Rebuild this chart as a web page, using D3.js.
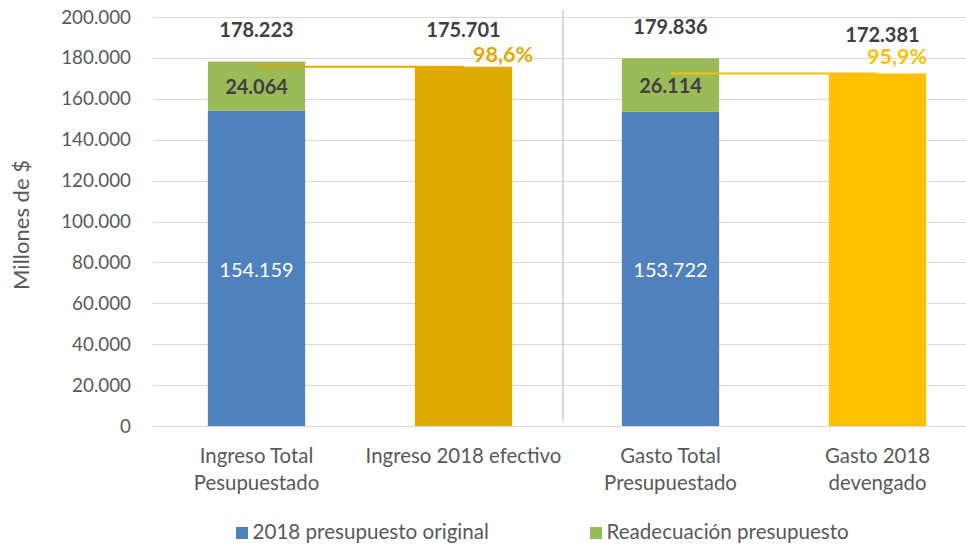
<!DOCTYPE html>
<html>
<head>
<meta charset="utf-8">
<script src="https://cdn.jsdelivr.net/npm/d3@7"></script>
<style>
  body { margin: 0; background: #fff; }
  svg { display: block; font-family: Lato, "Open Sans", sans-serif; }
</style>
</head>
<body>
<svg id="chart" width="966" height="544"></svg>
<script>
// ---- data ----
const categories = ["Ingreso Total|Pesupuestado", "Ingreso 2018 efectivo", "Gasto Total|Presupuestado", "Gasto 2018|devengado"];
const originalValues = [154159, null, 153722, null];
const readecuacionValues = [24064, null, 26114, null];
const ejecutadoValues = [null, 175701, null, 172381];
const totalValues = [178223, 175701, 179836, 172381];
const percentLabels = ["98,6%", "95,9%"];
const yTicks = [0, 20000, 40000, 60000, 80000, 100000, 120000, 140000, 160000, 180000, 200000];
const seriesNames = ["2018 presupuesto original", "Readecuación presupuesto"];

// ---- styles ----
const blue = "#4F81BD", green = "#9BBB59", gold1 = "#E0AB00", gold2 = "#FFC000";
const execColors = [null, gold1, null, gold2];
const darkText = "#404040", axisText = "#595959";

const svg = d3.select("#chart");
const y = d3.scaleLinear().domain([0, 200000]).range([426, 17]);
const x = d3.scaleBand().domain(categories).range([153, 981]).paddingInner(0.53).paddingOuter(0.265);
const cx = c => x(c) + x.bandwidth() / 2;
const fmt = v => d3.format(",")(v).replace(/,/g, ".");

// gridlines
svg.append("g").selectAll("line").data(yTicks).join("line")
  .attr("x1", 153).attr("x2", 966)
  .attr("y1", d => Math.round(y(d)) + 0.5).attr("y2", d => Math.round(y(d)) + 0.5)
  .attr("stroke", "#D9D9D9").attr("stroke-width", 1);

// y axis labels
const yAxis = d3.axisLeft(y).tickValues(yTicks).tickFormat(fmt).tickSize(0).tickPadding(0);
const ya = svg.append("g").attr("transform", "translate(131,0)").call(yAxis);
ya.select(".domain").remove();
ya.selectAll("text").attr("fill", axisText).style("font-size", "18.8px").style("font-family", "Lato, sans-serif");

// axis title
svg.append("text").attr("transform", "translate(29,225) rotate(-90)")
  .attr("text-anchor", "middle").attr("fill", axisText).style("font-size", "22px")
  .text("Millones de $");

// separator
const sepX = (x(categories[1]) + x.bandwidth() + x(categories[2])) / 2 - 4;
svg.append("line").attr("x1", sepX).attr("x2", sepX).attr("y1", 10).attr("y2", 421)
  .attr("stroke", "#C8C8C8").attr("stroke-width", 1.3);

// bars
const idx = d3.range(categories.length);
svg.append("g").selectAll("rect").data(idx.filter(i => originalValues[i] != null)).join("rect")
  .attr("x", i => x(categories[i])).attr("width", x.bandwidth())
  .attr("y", i => y(originalValues[i])).attr("height", i => y(0) - y(originalValues[i]))
  .attr("fill", blue);
svg.append("g").selectAll("rect").data(idx.filter(i => readecuacionValues[i] != null)).join("rect")
  .attr("x", i => x(categories[i])).attr("width", x.bandwidth())
  .attr("y", i => y(originalValues[i] + readecuacionValues[i]))
  .attr("height", i => y(originalValues[i]) - y(originalValues[i] + readecuacionValues[i]))
  .attr("fill", green);
svg.append("g").selectAll("rect").data(idx.filter(i => ejecutadoValues[i] != null)).join("rect")
  .attr("x", i => x(categories[i])).attr("width", x.bandwidth())
  .attr("y", i => y(ejecutadoValues[i])).attr("height", i => y(0) - y(ejecutadoValues[i]))
  .attr("fill", i => execColors[i]);

// axis baseline
svg.append("line").attr("x1", 153).attr("x2", 966).attr("y1", Math.round(y(0)) + 0.5).attr("y2", Math.round(y(0)) + 0.5)
  .attr("stroke", "#D9D9D9").attr("stroke-width", 1.2);

// connector lines (budget -> executed)
const pairs = [[0, 1], [2, 3]];
pairs.forEach(([a, b]) => {
  const yy = y(ejecutadoValues[b]);
  svg.append("line")
    .attr("x1", cx(categories[a])).attr("x2", cx(categories[b]))
    .attr("y1", yy).attr("y2", yy)
    .attr("stroke", execColors[b]).attr("stroke-width", 2);
});

// percentage labels
const pctDx = [39.5, 19.5], pctDy = [-5, -9.5];
pairs.forEach(([a, b], k) => {
  svg.append("text")
    .attr("x", cx(categories[b]) + pctDx[k])
    .attr("y", y(ejecutadoValues[b]) + pctDy[k])
    .attr("text-anchor", "middle").attr("fill", execColors[b])
    .style("font-size", "21.5px").style("font-weight", "bold")
    .text(percentLabels[k]);
});

// total labels
const totalDy = [-24.2, -29.4, -24.2, -31.8];
const totalDx = [0, 0, 0, 5];
svg.append("g").selectAll("text").data(idx).join("text")
  .attr("x", i => cx(categories[i]) + totalDx[i])
  .attr("y", i => y(totalValues[i]) + totalDy[i])
  .attr("text-anchor", "middle").attr("fill", darkText)
  .style("font-size", "20px").style("font-weight", "bold")
  .text(i => fmt(totalValues[i]));

// segment labels
svg.append("g").selectAll("text").data(idx.filter(i => readecuacionValues[i] != null)).join("text")
  .attr("x", i => cx(categories[i]))
  .attr("y", i => y(originalValues[i] + readecuacionValues[i] / 2) + 7.8)
  .attr("text-anchor", "middle").attr("fill", darkText)
  .style("font-size", "20px").style("font-weight", "bold")
  .text(i => fmt(readecuacionValues[i]));
svg.append("g").selectAll("text").data(idx.filter(i => originalValues[i] != null)).join("text")
  .attr("x", i => cx(categories[i]))
  .attr("y", i => y(originalValues[i] / 2) + 8.4)
  .attr("text-anchor", "middle").attr("fill", "#FFFFFF")
  .style("font-size", "20px")
  .text(i => fmt(originalValues[i]));

// category labels
const catG = svg.append("g");
categories.forEach(c => {
  const lines = c.split("|");
  const t = catG.append("text").attr("text-anchor", "middle").attr("fill", axisText).style("font-size", "20.4px");
  lines.forEach((l, j) => {
    t.append("tspan").attr("x", cx(c)).attr("y", 463 + j * 27).text(l);
  });
});

// legend
const legendX = [236, 590];
const legendColors = [blue, green];
seriesNames.forEach((n, k) => {
  svg.append("rect").attr("x", legendX[k]).attr("y", 527).attr("width", 12).attr("height", 12).attr("fill", legendColors[k]);
  svg.append("text").attr("x", legendX[k] + 16.5).attr("y", 538.5).attr("fill", axisText)
    .style("font-size", "20.6px").text(n);
});
</script>
</body>
</html>
